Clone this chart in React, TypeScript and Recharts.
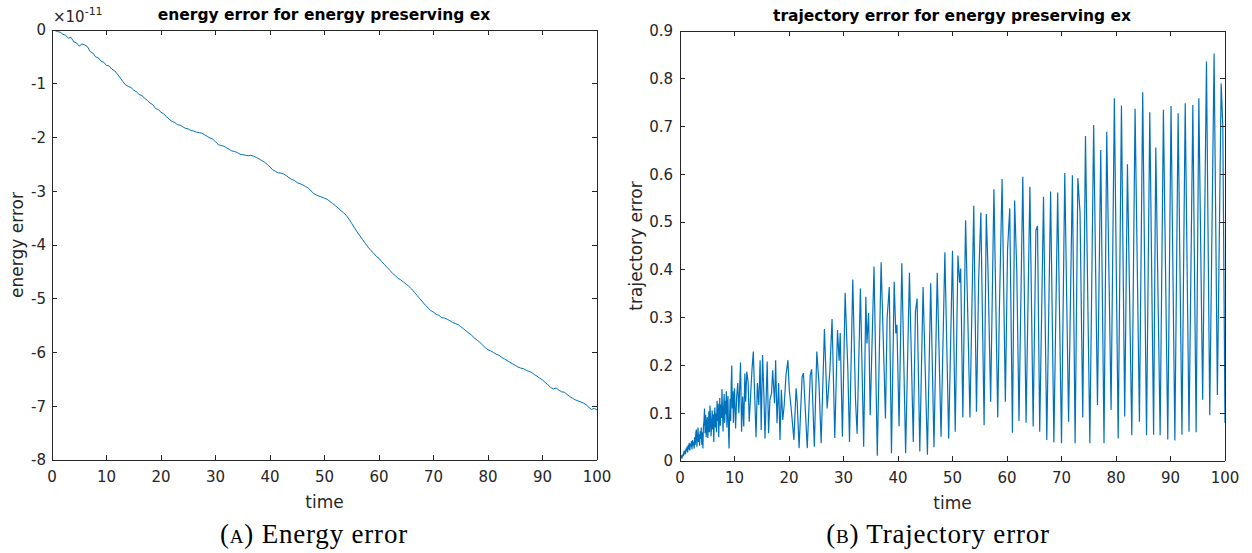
import { LineChart, Line, XAxis, YAxis } from "recharts";

const FONT = '"DejaVu Sans", "Liberation Sans", Arial, sans-serif';
const SERIF = '"Liberation Serif", "DejaVu Serif", serif';
const AXIS = "#262626";
const BLUE = "#0072BD";

// shared axes
const timeTicks = [0, 10, 20, 30, 40, 50, 60, 70, 80, 90, 100];
const energyTicks = [-8, -7, -6, -5, -4, -3, -2, -1, 0];
const trajTicks = [0, 0.1, 0.2, 0.3, 0.4, 0.5, 0.6, 0.7, 0.8, 0.9];

// (A) energy error, values in units of 1e-11
const energyTime = [
  0, 0.5, 1, 1.5, 2, 2.5, 3, 3.5, 4, 4.5, 5, 5.5, 6, 6.5, 7, 7.5, 8, 8.5, 9, 9.5,
  10, 10.5, 11, 11.5, 12, 12.5, 13, 13.5, 14, 14.5, 15, 15.5, 16, 16.5, 17, 17.5, 18, 18.5, 19, 19.5,
  20, 20.5, 21, 21.5, 22, 22.5, 23, 23.5, 24, 24.5, 25, 25.5, 26, 26.5, 27, 27.5, 28, 28.5, 29, 29.5,
  30, 30.5, 31, 31.5, 32, 32.5, 33, 33.5, 34, 34.5, 35, 35.5, 36, 36.5, 37, 37.5, 38, 38.5, 39, 39.5,
  40, 40.5, 41, 41.5, 42, 42.5, 43, 43.5, 44, 44.5, 45, 45.5, 46, 46.5, 47, 47.5, 48, 48.5, 49, 49.5,
  50, 50.5, 51, 51.5, 52, 52.5, 53, 53.5, 54, 54.5, 55, 55.5, 56, 56.5, 57, 57.5, 58, 58.5, 59, 59.5,
  60, 60.5, 61, 61.5, 62, 62.5, 63, 63.5, 64, 64.5, 65, 65.5, 66, 66.5, 67, 67.5, 68, 68.5, 69, 69.5,
  70, 70.5, 71, 71.5, 72, 72.5, 73, 73.5, 74, 74.5, 75, 75.5, 76, 76.5, 77, 77.5, 78, 78.5, 79, 79.5,
  80, 80.5, 81, 81.5, 82, 82.5, 83, 83.5, 84, 84.5, 85, 85.5, 86, 86.5, 87, 87.5, 88, 88.5, 89, 89.5,
  90, 90.5, 91, 91.5, 92, 92.5, 93, 93.5, 94, 94.5, 95, 95.5, 96, 96.5, 97, 97.5, 98, 98.5, 99, 99.5,
  100,
];
const energyErr = [
  0, -0.01, -0.03, -0.04, -0.08, -0.1, -0.15, -0.14, -0.22, -0.24, -0.3, -0.26, -0.28, -0.31, -0.4, -0.43, -0.5, -0.52, -0.58, -0.6,
  -0.66, -0.67, -0.73, -0.76, -0.82, -0.89, -0.96, -1.02, -1.05, -1.07, -1.12, -1.15, -1.2, -1.22, -1.27, -1.31, -1.36, -1.39, -1.46, -1.48,
  -1.53, -1.56, -1.61, -1.66, -1.7, -1.72, -1.76, -1.77, -1.8, -1.83, -1.84, -1.87, -1.88, -1.9, -1.91, -1.92, -1.95, -1.98, -2.01, -2.03,
  -2.08, -2.13, -2.15, -2.16, -2.19, -2.22, -2.25, -2.26, -2.28, -2.31, -2.32, -2.33, -2.34, -2.33, -2.35, -2.37, -2.4, -2.43, -2.46, -2.5,
  -2.55, -2.6, -2.63, -2.66, -2.66, -2.68, -2.71, -2.75, -2.78, -2.8, -2.84, -2.86, -2.88, -2.91, -2.94, -2.99, -3.04, -3.07, -3.09, -3.11,
  -3.13, -3.15, -3.19, -3.23, -3.27, -3.31, -3.36, -3.4, -3.45, -3.52, -3.6, -3.68, -3.76, -3.83, -3.9, -3.97, -4.04, -4.1, -4.15, -4.21,
  -4.25, -4.31, -4.36, -4.42, -4.47, -4.53, -4.57, -4.62, -4.65, -4.69, -4.73, -4.77, -4.82, -4.88, -4.94, -5.0, -5.06, -5.12, -5.17, -5.22,
  -5.25, -5.29, -5.31, -5.35, -5.36, -5.38, -5.41, -5.44, -5.46, -5.48, -5.52, -5.56, -5.6, -5.64, -5.68, -5.73, -5.77, -5.81, -5.86, -5.91,
  -5.95, -5.97, -6.0, -6.03, -6.05, -6.09, -6.12, -6.15, -6.18, -6.21, -6.24, -6.27, -6.29, -6.3, -6.33, -6.35, -6.37, -6.41, -6.44, -6.48,
  -6.51, -6.56, -6.6, -6.65, -6.68, -6.66, -6.7, -6.73, -6.74, -6.78, -6.82, -6.85, -6.88, -6.9, -6.92, -6.94, -6.97, -7.02, -7.06, -7.04,
  -7.07,
];

// (B) trajectory error
const trajTime = [
  0, 0.1, 0.2, 0.3, 0.4, 0.5, 0.6, 0.7, 0.8, 0.9, 1.0, 1.1, 1.2, 1.3, 1.4, 1.5, 1.6, 1.7, 1.8, 1.9,
  2.0, 2.1, 2.2, 2.3, 2.4, 2.5, 2.6, 2.7, 2.8, 2.9, 3.0, 3.1, 3.2, 3.3, 3.4, 3.5, 3.6, 3.7, 3.8, 3.9,
  4.0, 4.1, 4.2, 4.3, 4.4, 4.5, 4.6, 4.7, 4.8, 4.9, 5.0, 5.1, 5.2, 5.3, 5.4, 5.5, 5.6, 5.7, 5.8, 5.9,
  6.0, 6.1, 6.2, 6.3, 6.4, 6.5, 6.6, 6.7, 6.8, 6.9, 7.0, 7.1, 7.2, 7.3, 7.4, 7.5, 7.6, 7.7, 7.8, 7.9,
  8.0, 8.1, 8.2, 8.3, 8.4, 8.5, 8.6, 8.7, 8.8, 8.9, 9.0, 9.1, 9.2, 9.3, 9.4, 9.5, 9.6, 9.7, 9.8, 9.9,
  10.0, 10.2, 10.4, 10.6, 10.8, 11.1, 11.3, 11.5, 11.7, 11.9,
  12.05, 12.25, 12.5, 12.7, 12.95, 13.2, 13.45, 13.7, 13.95, 14.2, 14.45, 14.7, 14.9, 15.15, 15.4, 15.6, 15.85, 16.0, 16.25, 16.5,
  16.8, 17.0, 17.35, 17.55, 17.8, 18.1, 18.35, 18.6, 18.85, 19.1, 19.45, 19.8, 20.05, 20.4, 20.9, 21.3, 21.5, 21.85, 22.4, 22.65,
  23.35, 23.9, 24.15, 24.65, 25.1, 25.5, 25.9, 26.5, 27.0, 27.5, 27.9, 28.4, 28.9, 29.2, 29.4, 29.8, 30.3, 30.8, 31.1, 31.7,
  32.2, 32.5, 33.1, 33.7, 34.1, 34.3, 34.6, 34.9, 35.6, 36.2, 36.9, 37.7, 38.0, 38.4, 38.8, 39.3, 39.6, 39.8, 40.2, 40.7,
  41.4, 42.1, 42.8, 43.2, 43.5, 44.0, 44.6, 45.4, 46.0, 46.6, 47.2, 47.9, 48.6, 49.3, 50.0, 50.5, 51.0, 51.3, 51.5, 51.9,
  52.4, 52.8, 53.2, 53.9, 54.4, 54.8, 55.2, 55.8, 56.2, 56.5, 57.0, 57.6, 58.3, 58.6, 59.1, 59.7, 60.1, 60.5, 61.0, 61.4,
  61.8, 62.2, 62.9, 63.5, 64.2, 64.8, 65.3, 65.6, 66.0, 66.7, 67.3, 68.0, 68.6, 69.3, 70.0, 70.6, 71.3, 72.0, 72.5, 73.0,
  73.4, 73.9, 74.4, 75.2, 75.9, 76.6, 77.2, 77.8, 78.3, 79.1, 79.7, 80.4, 81.0, 81.6, 82.1, 82.9, 83.5, 84.3, 84.9, 85.6,
  86.2, 86.9, 87.3, 88.1, 88.7, 89.5, 90.1, 90.8, 91.4, 92.1, 92.7, 93.4, 94.1, 94.7, 95.2, 95.9, 96.6, 97.2, 98.0, 98.6,
  99.3, 99.6, 100,
];
const trajErr = [
  0, 0.004, 0.006, 0.01, 0.008, 0.014, 0.01, 0.018, 0.016, 0.022, 0.014, 0.026, 0.02, 0.03, 0.018, 0.034, 0.024, 0.038, 0.022, 0.036,
  0.03, 0.042, 0.024, 0.044, 0.032, 0.04, 0.026, 0.05, 0.034, 0.058, 0.066, 0.03, 0.048, 0.07, 0.04, 0.056, 0.032, 0.062, 0.046, 0.07,
  0.034, 0.06, 0.026, 0.072, 0.084, 0.11, 0.058, 0.096, 0.05, 0.08, 0.092, 0.048, 0.07, 0.104, 0.06, 0.116, 0.09, 0.052, 0.074, 0.106,
  0.066, 0.098, 0.04, 0.09, 0.112, 0.07, 0.1, 0.06, 0.126, 0.084, 0.12, 0.05, 0.096, 0.132, 0.074, 0.118, 0.09, 0.15, 0.102, 0.062,
  0.112, 0.14, 0.08, 0.126, 0.098, 0.146, 0.07, 0.12, 0.136, 0.06, 0.026, 0.094, 0.13, 0.084, 0.16, 0.2, 0.11, 0.146, 0.08, 0.13,
  0.152, 0.068, 0.135, 0.163, 0.1, 0.206, 0.061, 0.135, 0.072, 0.183,
  0.124, 0.187, 0.166, 0.082, 0.135, 0.19, 0.229, 0.138, 0.05, 0.163, 0.117, 0.211, 0.065, 0.222, 0.135, 0.047, 0.149, 0.208, 0.058, 0.128,
  0.142, 0.19, 0.121, 0.211, 0.079, 0.163, 0.044, 0.149, 0.086, 0.114, 0.18, 0.211, 0.149, 0.11, 0.044, 0.152, 0.124, 0.027, 0.176, 0.184,
  0.027, 0.18, 0.192, 0.03, 0.229, 0.163, 0.037, 0.276, 0.11, 0.19, 0.297, 0.048, 0.274, 0.21, 0.268, 0.051, 0.352, 0.19, 0.04, 0.38,
  0.128, 0.057, 0.361, 0.03, 0.344, 0.246, 0.31, 0.096, 0.407, 0.011, 0.416, 0.089, 0.299, 0.364, 0.016, 0.375, 0.267, 0.285, 0.073, 0.414,
  0.016, 0.394, 0.04, 0.313, 0.34, 0.02, 0.364, 0.013, 0.372, 0.029, 0.394, 0.051, 0.437, 0.047, 0.44, 0.061, 0.43, 0.373, 0.403, 0.091,
  0.504, 0.306, 0.091, 0.534, 0.103, 0.379, 0.52, 0.075, 0.517, 0.407, 0.124, 0.569, 0.091, 0.316, 0.59, 0.124, 0.442, 0.529, 0.059, 0.545,
  0.396, 0.084, 0.595, 0.08, 0.574, 0.072, 0.483, 0.492, 0.061, 0.553, 0.044, 0.564, 0.039, 0.562, 0.037, 0.603, 0.082, 0.598, 0.037, 0.592,
  0.52, 0.091, 0.68, 0.037, 0.703, 0.117, 0.651, 0.037, 0.689, 0.107, 0.759, 0.047, 0.744, 0.093, 0.621, 0.054, 0.737, 0.082, 0.772, 0.054,
  0.73, 0.055, 0.656, 0.054, 0.735, 0.045, 0.743, 0.043, 0.728, 0.055, 0.749, 0.061, 0.745, 0.06, 0.759, 0.128, 0.836, 0.096, 0.853, 0.138,
  0.79, 0.7, 0.08,
];

const energyRows = energyTime.map((t, i) => ({ t, v: energyErr[i] }));
const trajRows = trajTime.map((t, i) => ({ t, v: trajErr[i] }));

const tickStyle = { fill: AXIS, fontSize: 15, fontFamily: FONT };
const labelStyle = { fill: AXIS, fontSize: 17, fontFamily: FONT, textAnchor: "middle" as const };
const lineStyle = { stroke: AXIS, strokeWidth: 1, shapeRendering: "crispEdges" };
const noLabel = () => "";

interface PlotProps {
  rows: { t: number; v: number }[];
  yDomain: [number, number];
  yTicks: number[];
  yFormat: (v: number) => string;
  yLabel: string;
  width: number;
  margin: { top: number; right: number; bottom: number; left: number };
  yAxisWidth: number;
  xAxisHeight: number;
  yLabelOffset: number;
  xLabelOffset: number;
  yTickMargin: number;
  strokeWidth: number;
}

const ErrorPlot = (p: PlotProps) => (
  <LineChart width={p.width} height={520} data={p.rows} margin={p.margin}>
    <XAxis
      xAxisId="b"
      type="number"
      dataKey="t"
      domain={[0, 100]}
      ticks={timeTicks}
      interval={0}
      allowDataOverflow
      height={p.xAxisHeight}
      stroke={AXIS}
      axisLine={lineStyle}
      tickLine={lineStyle}
      tickSize={-5}
      tickMargin={16}
      tick={tickStyle}
      label={{ value: "time", position: "insideBottom", offset: p.xLabelOffset, style: labelStyle }}
    />
    <XAxis
      xAxisId="top"
      orientation="top"
      type="number"
      dataKey="t"
      domain={[0, 100]}
      ticks={timeTicks}
      interval={0}
      allowDataOverflow
      height={1}
      stroke={AXIS}
      axisLine={lineStyle}
      tickLine={lineStyle}
      tickSize={-5}
      tick={tickStyle}
      tickFormatter={noLabel}
    />
    <YAxis
      yAxisId="l"
      type="number"
      domain={p.yDomain}
      ticks={p.yTicks}
      interval={0}
      allowDataOverflow
      width={p.yAxisWidth}
      stroke={AXIS}
      axisLine={lineStyle}
      tickLine={lineStyle}
      tickSize={-5}
      tickMargin={p.yTickMargin}
      tick={tickStyle}
      tickFormatter={p.yFormat}
      label={{ value: p.yLabel, angle: -90, position: "insideLeft", offset: p.yLabelOffset, style: labelStyle }}
    />
    <YAxis
      yAxisId="r"
      orientation="right"
      type="number"
      domain={p.yDomain}
      ticks={p.yTicks}
      interval={0}
      allowDataOverflow
      width={1}
      stroke={AXIS}
      axisLine={lineStyle}
      tickLine={lineStyle}
      tickSize={-5}
      tick={tickStyle}
      tickFormatter={noLabel}
    />
    <Line
      xAxisId="b"
      yAxisId="l"
      type="linear"
      dataKey="v"
      stroke={BLUE}
      strokeWidth={p.strokeWidth}
      dot={false}
      isAnimationActive={false}
    />
  </LineChart>
);

const titleStyle = {
  position: "absolute" as const,
  fontFamily: FONT,
  fontWeight: 700,
  fontSize: 15.5,
  lineHeight: "18px",
  color: "#000",
  textAlign: "center" as const,
  whiteSpace: "nowrap" as const,
};

const captionStyle = {
  position: "absolute" as const,
  top: 521,
  width: 400,
  fontFamily: SERIF,
  fontSize: 27,
  lineHeight: "27px",
  letterSpacing: 0.8,
  color: "#000",
  textAlign: "center" as const,
  whiteSpace: "nowrap" as const,
};

export default function App() {
  return (
    <div style={{ position: "absolute", left: 0, top: 0, width: 1252, height: 553, background: "#fff" }}>
      <div style={{ position: "absolute", left: 0, top: 0 }}>
        <ErrorPlot
          rows={energyRows}
          yDomain={[-8, 0]}
          yTicks={energyTicks}
          yFormat={(v) => String(v)}
          yLabel="energy error"
          width={620}
          margin={{ top: 29, right: 22, bottom: 0, left: 0 }}
          yAxisWidth={52}
          xAxisHeight={60}
          yLabelOffset={17}
          xLabelOffset={12}
          yTickMargin={11}
          strokeWidth={1}
        />
      </div>
      <div style={{ position: "absolute", left: 620, top: 0 }}>
        <ErrorPlot
          rows={trajRows}
          yDomain={[0, 0.9]}
          yTicks={trajTicks}
          yFormat={(v) => (v === 0 ? "0" : v.toFixed(1))}
          yLabel="trajectory error"
          width={632}
          margin={{ top: 30, right: 26, bottom: 0, left: 0 }}
          yAxisWidth={60}
          xAxisHeight={59}
          yLabelOffset={16}
          xLabelOffset={11}
          yTickMargin={12}
          strokeWidth={1.2}
        />
      </div>

      <div style={{ ...titleStyle, left: 124, width: 400, top: 6 }}>
        energy error for energy preserving ex
      </div>
      <div style={{ ...titleStyle, left: 752, width: 400, top: 7 }}>
        trajectory error for energy preserving ex
      </div>

      <div style={{ position: "absolute", left: 53, top: 8, fontFamily: FONT, fontSize: 15, color: AXIS, whiteSpace: "nowrap" }}>
        ×10<span style={{ fontSize: 11, position: "relative", top: -7 }}>-11</span>
      </div>

      <div style={{ ...captionStyle, left: 114 }}>
        (<span style={{ fontVariant: "small-caps" }}>a</span>) Energy error
      </div>
      <div style={{ ...captionStyle, left: 738 }}>
        (<span style={{ fontVariant: "small-caps" }}>b</span>) Trajectory error
      </div>
    </div>
  );
}
